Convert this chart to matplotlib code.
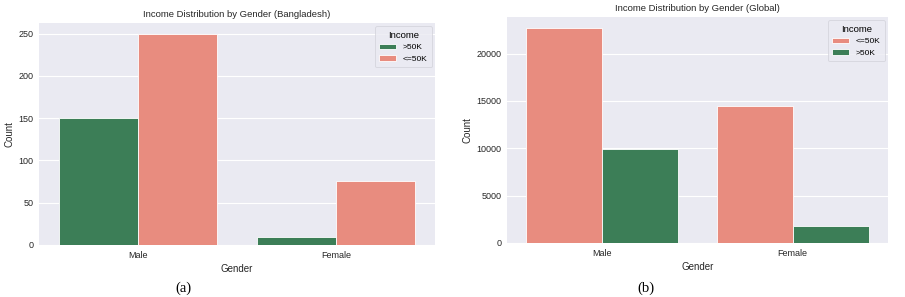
import matplotlib
matplotlib.use("Agg")
import matplotlib.pyplot as plt
import numpy as np

# data
genders = ["Male", "Female"]

bd_income = [">50K", "<=50K"]
bd_counts = {">50K": [150, 10], "<=50K": [250, 76]}

gl_income = ["<=50K", ">50K"]
gl_counts = {"<=50K": [22732, 14423], ">50K": [9918, 1769]}

colors = {">50K": "#3c7e57", "<=50K": "#e88c7f"}

plt.rcParams['font.family'] = ['Liberation Sans', 'DejaVu Sans']

fig = plt.figure(figsize=(9.05, 2.97), dpi=100)
ax1 = fig.add_axes([39/905, 52/297, 396/905, 222/297])
ax2 = fig.add_axes([507/905, 54/297, 381/905, 226/297])


def draw(ax, income, counts, title, ticks):
    ax.set_facecolor("#eaeaf2")
    x = np.arange(len(genders))
    w = 0.4
    for i, inc in enumerate(income):
        ax.bar(x - w/2 + i*w, counts[inc], width=w, color=colors[inc],
               edgecolor="white", linewidth=0.6, label=inc, zorder=2)
    ax.set_xlim(-0.5, 1.5)
    top = max(max(v) for v in counts.values()) * 1.05
    ax.set_ylim(0, top)
    ax.set_yticks(ticks)
    ax.set_xticks(x)
    ax.set_xticklabels(genders)
    ax.yaxis.grid(True, color="white", linewidth=0.8, zorder=0)
    ax.set_axisbelow(True)
    for s in ax.spines.values():
        s.set_visible(False)
    ax.tick_params(length=0, labelsize=6.5, colors="#262626", pad=4)
    ax.set_title(title, fontsize=6.8, color="#262626", pad=4)
    ax.set_xlabel("Gender", fontsize=7, color="#262626", labelpad=3)
    ax.set_ylabel("Count", fontsize=7, color="#262626", labelpad=3)
    leg = ax.legend(title="Income", loc="upper right", fontsize=6,
                    title_fontsize=6.8, frameon=True, facecolor="#eaeaf2",
                    edgecolor="#d0d0d8", handlelength=2.0, handleheight=0.6,
                    borderpad=0.5, labelspacing=0.5, borderaxespad=0.4)
    leg.get_frame().set_linewidth(0.6)


draw(ax1, bd_income, bd_counts, "Income Distribution by Gender (Bangladesh)",
     [0, 50, 100, 150, 200, 250])
draw(ax2, gl_income, gl_counts, "Income Distribution by Gender (Global)",
     [0, 5000, 10000, 15000, 20000])

fig.text(183/905, 1 - 288/297, "(a)", family="Liberation Serif", fontsize=10.5,
         ha="center", va="center")
fig.text(646/905, 1 - 288/297, "(b)", family="Liberation Serif", fontsize=10.5,
         ha="center", va="center")

fig.savefig("out.png", dpi=100)
